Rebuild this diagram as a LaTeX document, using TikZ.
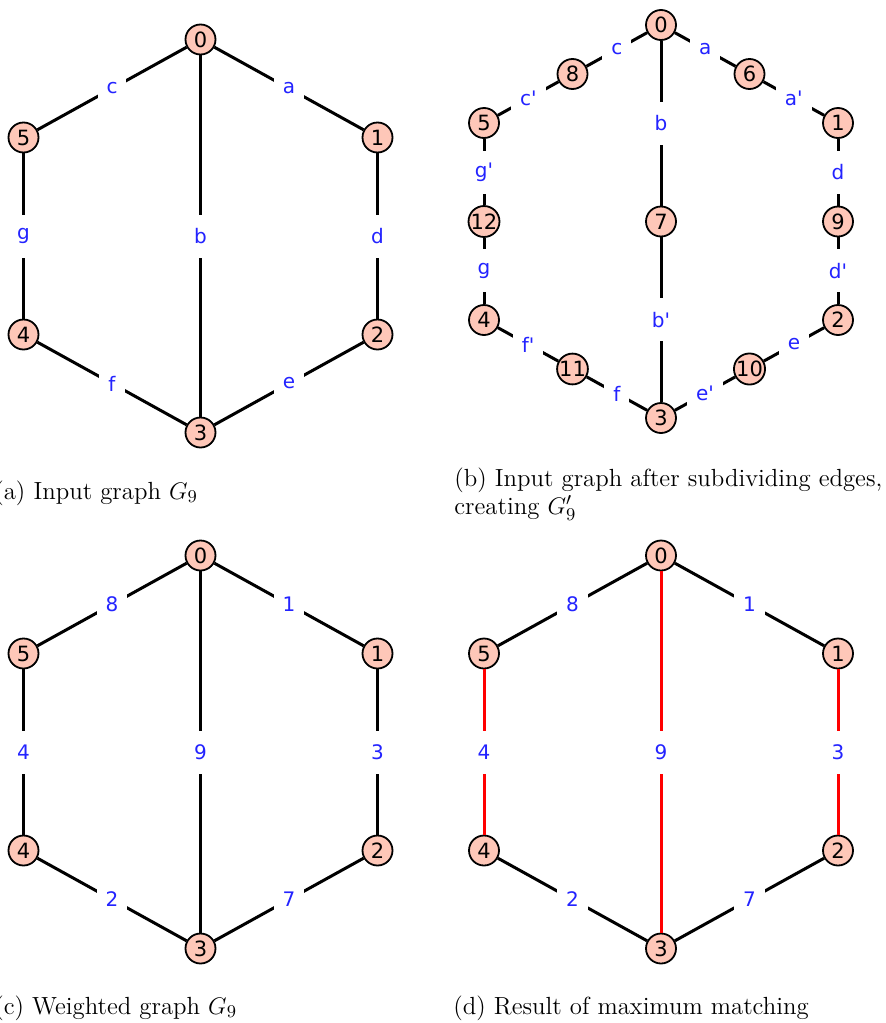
\documentclass[tikz,border=0pt]{standalone}
\usepackage{fontspec}
\newfontfamily\dv{DejaVu Sans}[Ligatures=TeXOff]
\definecolor{vfill}{HTML}{FEC7B8}
\definecolor{lblue}{RGB}{35,35,255}
\begin{document}
\begin{tikzpicture}[x=0.5pt,y=-0.5pt,
 v/.style={circle,draw=black,line width=0.9pt,fill=vfill,minimum size=15pt,inner sep=0pt,font=\dv\fontsize{10.5}{10.5}\selectfont,text=black},
 ed/.style={line width=1.5pt,black},
 med/.style={line width=1.5pt,red},
 lbl/.style={fill=white,inner xsep=4.5pt,inner ysep=0pt,minimum height=21.5pt,text=lblue,font=\dv\fontsize{10}{10}\selectfont},
 captxt/.style={anchor=base west,inner sep=0pt,font=\fontsize{12.4}{14}\selectfont}]
\useasboundingbox (0,0) rectangle (886,1023);

% (a)
\begin{scope}[shift={(200.5,236)}]
\node[v] (a0) at (0,-196.5) {0};
\node[v] (a5) at (-177,-98.5) {5};
\node[v] (a1) at (177,-98.5) {1};
\node[v] (a4) at (-177,98.5) {4};
\node[v] (a2) at (177,98.5) {2};
\node[v] (a3) at (0,196.5) {3};
\end{scope}
\draw[ed] (a0) -- node[lbl]{c} (a5);
\draw[ed] (a0) -- node[lbl]{a} (a1);
\draw[ed] (a0) -- node[lbl]{b} (a3);
\draw[ed] (a5) -- node[lbl]{g} (a4);
\draw[ed] (a1) -- node[lbl]{d} (a2);
\draw[ed] (a4) -- node[lbl]{f} (a3);
\draw[ed] (a2) -- node[lbl]{e} (a3);

% (b)
\begin{scope}[shift={(661,221.5)}]
\node[v] (b0) at (0,-196.5) {0};
\node[v] (b8) at (-88.5,-147.5) {8};
\node[v] (b5) at (-177,-98.5) {5};
\node[v] (b12) at (-177,0) {12};
\node[v] (b4) at (-177,98.5) {4};
\node[v] (b11) at (-88.5,147.5) {11};
\node[v] (b3) at (0,196.5) {3};
\node[v] (b10) at (88.5,147.5) {10};
\node[v] (b2) at (177,98.5) {2};
\node[v] (b9) at (177,0) {9};
\node[v] (b1) at (177,-98.5) {1};
\node[v] (b6) at (88.5,-147.5) {6};
\node[v] (b7) at (0,0) {7};
\end{scope}
\draw[ed] (b0) -- node[lbl]{c} (b8);
\draw[ed] (b8) -- node[lbl]{c'} (b5);
\draw[ed] (b0) -- node[lbl]{a} (b6);
\draw[ed] (b6) -- node[lbl]{a'} (b1);
\draw[ed] (b0) -- node[lbl]{b} (b7);
\draw[ed] (b7) -- node[lbl]{b'} (b3);
\draw[ed] (b5) -- node[lbl]{g'} (b12);
\draw[ed] (b12) -- node[lbl]{g} (b4);
\draw[ed] (b1) -- node[lbl]{d} (b9);
\draw[ed] (b9) -- node[lbl]{d'} (b2);
\draw[ed] (b4) -- node[lbl]{f'} (b11);
\draw[ed] (b11) -- node[lbl]{f} (b3);
\draw[ed] (b3) -- node[lbl]{e'} (b10);
\draw[ed] (b10) -- node[lbl]{e} (b2);

% (c)
\begin{scope}[shift={(200.5,752)}]
\node[v] (c0) at (0,-196.5) {0};
\node[v] (c5) at (-177,-98.5) {5};
\node[v] (c1) at (177,-98.5) {1};
\node[v] (c4) at (-177,98.5) {4};
\node[v] (c2) at (177,98.5) {2};
\node[v] (c3) at (0,196.5) {3};
\end{scope}
\draw[ed] (c0) -- node[lbl]{8} (c5);
\draw[ed] (c0) -- node[lbl]{1} (c1);
\draw[ed] (c0) -- node[lbl]{9} (c3);
\draw[ed] (c5) -- node[lbl]{4} (c4);
\draw[ed] (c1) -- node[lbl]{3} (c2);
\draw[ed] (c4) -- node[lbl]{2} (c3);
\draw[ed] (c2) -- node[lbl]{7} (c3);

% (d)
\begin{scope}[shift={(661,752)}]
\node[v] (d0) at (0,-196.5) {0};
\node[v] (d5) at (-177,-98.5) {5};
\node[v] (d1) at (177,-98.5) {1};
\node[v] (d4) at (-177,98.5) {4};
\node[v] (d2) at (177,98.5) {2};
\node[v] (d3) at (0,196.5) {3};
\end{scope}
\draw[ed] (d0) -- node[lbl]{8} (d5);
\draw[ed] (d0) -- node[lbl]{1} (d1);
\draw[med] (d0) -- node[lbl]{9} (d3);
\draw[med] (d5) -- node[lbl]{4} (d4);
\draw[med] (d1) -- node[lbl]{3} (d2);
\draw[ed] (d4) -- node[lbl]{2} (d3);
\draw[ed] (d2) -- node[lbl]{7} (d3);

% captions
\node[captxt] (capa) at (-6,499) {(a) Input graph $G_9$};
\node[captxt] (capb1) at (454,486) {(b) Input graph after subdividing edges,};
\node[captxt] (capb2) at (454,514) {creating $G_9'$};
\node[captxt] (capc) at (-6,1014) {(c) Weighted graph $G_9$};
\node[captxt] (capd) at (453,1014) {(d) Result of maximum matching};
\end{tikzpicture}
\end{document}
